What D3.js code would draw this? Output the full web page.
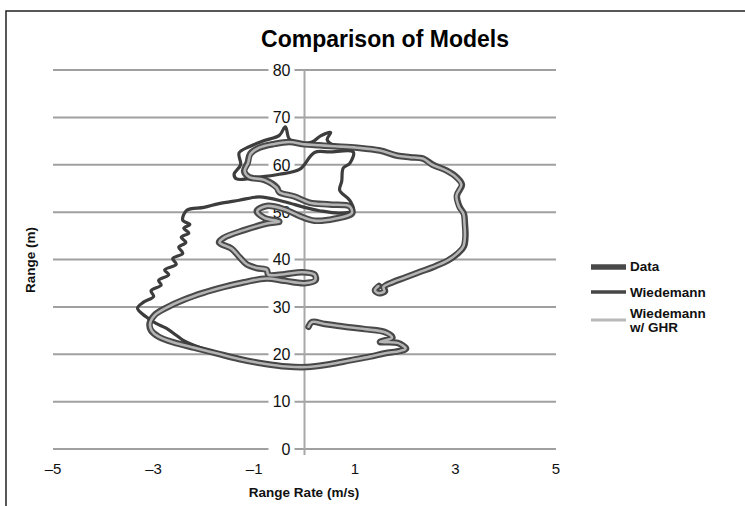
<!DOCTYPE html>
<html><head><meta charset="utf-8">
<script src="https://cdn.jsdelivr.net/npm/d3@7"></script>
<style>body{margin:0;background:#fff}</style>
</head><body>
<svg id="c" width="745" height="506"></svg>
<script>
const chartTitle = "Comparison of Models";
const xTitle = "Range Rate (m/s)";
const yTitle = "Range (m)";
const xTicks = [-5, -3, -1, 1, 3, 5];
const yTicks = [0, 10, 20, 30, 40, 50, 60, 70, 80];
const seriesNames = ["Data", "Wiedemann", "Wiedemann w/ GHR"];

// Data series: range rate (m/s), range (m)
const dataX = [1.48,1.40,1.47,1.60,1.58,1.75,2.0,2.3,2.6,2.85,3.05,3.17,3.20,3.19,3.17,3.08,3.03,3.13,3.02,2.82,2.55,2.36,2.1,1.85,1.5,1.05,0.6,0.3,0.0,-0.3,-0.6,-0.9,-1.08,-1.13,-1.2,-1.1,-0.8,-0.55,-0.5,-0.2,0.1,0.5,0.9,0.95,0.6,0.2,-0.1,-0.4,-0.75,-0.95,-0.8,-0.5,-0.75,-1.2,-1.6,-1.7,-1.45,-1.3,-1.15,-0.95,-0.75,-0.72,-0.4,-0.05,0.2,0.22,0.0,-0.4,-0.75,-1.2,-1.6,-2.0,-2.4,-2.75,-2.98,-3.08,-3.05,-2.9,-2.6,-2.2,-1.75,-1.3,-0.8,-0.35,0.05,0.5,0.9,1.3,1.6,1.9,2.02,1.85,1.5,1.75,1.62,1.2,0.8,0.4,0.15,0.08];
const dataY = [34.4,33.5,32.9,33.3,34.2,35.2,36.2,37.4,38.6,39.8,41.3,42.8,45.0,47.5,49.6,51.2,53.5,55.8,57.4,58.8,60.0,61.3,61.6,61.9,63.0,63.6,63.9,64.1,64.3,64.8,64.4,63.6,62.3,60.4,58.6,57.4,56.8,55.2,54.2,53.3,52.0,51.6,51.2,49.8,48.6,48.2,49.2,50.6,51.3,50.2,48.8,48.0,47.6,46.2,44.6,43.6,42.3,40.6,39.0,38.2,37.8,36.8,36.9,37.3,36.8,35.6,35.0,35.5,36.0,35.2,34.2,33.0,31.5,29.8,28.3,26.5,25.0,23.7,22.5,21.4,20.2,19.0,18.0,17.4,17.3,17.9,18.7,19.5,20.2,20.7,21.2,22.4,22.6,23.5,24.6,25.3,25.8,26.4,26.8,25.8];

// Wiedemann model
const wiedX = [1.48,1.41,1.48,1.61,1.58,1.76,2.0,2.3,2.6,2.86,3.06,3.18,3.21,3.19,3.16,3.09,3.02,3.14,3.01,2.82,2.55,2.36,2.1,1.85,1.5,1.05,0.6,0.45,0.52,0.32,0.15,-0.1,-0.3,-0.38,-0.5,-0.8,-1.1,-1.3,-1.27,-1.4,-1.35,-0.9,-0.5,-0.1,0.2,0.5,0.97,0.9,0.77,0.74,0.7,0.9,0.97,0.7,0.3,0.0,-0.4,-0.9,-1.3,-1.7,-2.0,-2.34,-2.42,-2.28,-2.4,-2.3,-2.45,-2.36,-2.5,-2.42,-2.62,-2.55,-2.78,-2.7,-2.9,-2.85,-3.05,-3.0,-3.2,-3.32,-3.15,-2.95,-2.75,-2.55,-2.42,-2.2,-1.75,-1.3,-0.8,-0.35,0.05,0.5,0.9,1.3,1.6,1.9,2.0,1.85,1.5,1.74,1.6,1.2,0.8,0.4,0.15,0.1];
const wiedY = [34.4,33.5,32.9,33.3,34.2,35.2,36.2,37.4,38.6,39.8,41.3,42.8,45.0,47.5,49.6,51.2,53.5,55.8,57.4,58.8,60.0,61.3,61.7,62.0,63.1,63.7,64.0,65.3,66.8,66.1,64.8,64.6,65.4,68.0,66.2,65.1,63.8,62.5,60.0,58.0,57.0,57.4,58.0,59.0,62.6,62.7,62.7,60.3,59.3,56.5,54.6,52.5,50.4,49.8,50.3,51.0,52.2,53.2,52.5,51.8,51.0,50.4,48.3,47.4,46.6,45.6,44.7,43.6,42.6,41.3,40.2,39.0,37.8,36.8,35.6,34.6,33.4,32.2,31.0,29.7,27.9,26.5,25.5,24.0,23.0,21.9,20.3,19.1,18.1,17.5,17.4,18.0,18.8,19.6,20.3,20.8,21.3,22.4,22.7,23.5,24.6,25.3,25.8,26.4,26.8,25.8];

// Wiedemann w/ GHR model
const ghrX = [1.47,1.40,1.47,1.59,1.57,1.75,2.0,2.3,2.6,2.85,3.04,3.16,3.19,3.18,3.16,3.07,3.02,3.12,3.01,2.81,2.54,2.35,2.1,1.85,1.5,1.05,0.6,0.3,0.0,-0.3,-0.6,-0.9,-1.07,-1.12,-1.19,-1.1,-0.8,-0.56,-0.5,-0.2,0.1,0.5,0.9,0.94,0.6,0.2,-0.1,-0.4,-0.75,-0.94,-0.8,-0.5,-0.75,-1.2,-1.6,-1.69,-1.45,-1.3,-1.15,-0.95,-0.75,-0.72,-0.4,-0.05,0.2,0.21,0.0,-0.4,-0.75,-1.2,-1.6,-2.0,-2.4,-2.75,-2.97,-3.07,-3.04,-2.9,-2.6,-2.2,-1.75,-1.3,-0.8,-0.35,0.05,0.5,0.9,1.3,1.6,1.9,2.01,1.85,1.5,1.74,1.61,1.2,0.8,0.4,0.15,0.08];
const ghrY = [34.4,33.5,32.9,33.3,34.2,35.2,36.2,37.4,38.6,39.8,41.3,42.8,45.0,47.5,49.6,51.2,53.5,55.8,57.4,58.8,60.0,61.3,61.6,61.9,63.0,63.6,63.9,64.1,64.3,64.8,64.4,63.6,62.3,60.4,58.6,57.4,56.8,55.2,54.2,53.3,52.0,51.6,51.2,49.8,48.6,48.2,49.2,50.6,51.3,50.2,48.8,48.0,47.6,46.2,44.6,43.6,42.3,40.6,39.0,38.2,37.8,36.8,36.9,37.3,36.8,35.6,35.0,35.5,36.0,35.2,34.2,33.0,31.5,29.8,28.3,26.5,25.0,23.7,22.5,21.4,20.2,19.0,18.0,17.4,17.3,17.9,18.7,19.5,20.2,20.7,21.2,22.4,22.6,23.5,24.6,25.3,25.8,26.4,26.8,25.8];

const svg = d3.select("#c");
const W = 745, H = 506;
const font = "'Liberation Sans', Arial, sans-serif";

// outer chart border
svg.append("rect").attr("x", 6).attr("y", 11).attr("width", 760).attr("height", 520)
  .attr("fill", "#fff").attr("stroke", "#222").attr("stroke-width", 1.5);

const x = d3.scaleLinear().domain([-5, 5]).range([53, 556]);
const y = d3.scaleLinear().domain([0, 80]).range([449, 70]);

const defs = svg.append("defs");
defs.append("filter").attr("id", "soft").append("feGaussianBlur").attr("stdDeviation", 0.6);

// horizontal gridlines
svg.append("g").selectAll("line").data(yTicks).join("line")
  .attr("x1", x(-5)).attr("x2", x(5))
  .attr("y1", d => y(d)).attr("y2", d => y(d))
  .attr("stroke", "#a0a0a0").attr("stroke-width", 2);

// vertical axis at x=0
svg.append("line").attr("x1", x(0)).attr("x2", x(0)).attr("y1", y(80)).attr("y2", y(0) + 6)
  .attr("stroke", "#a8a8a8").attr("stroke-width", 2);

// y tick labels with white background
const yl = svg.append("g").selectAll("g").data(yTicks).join("g")
  .attr("transform", d => `translate(${x(0) - 14},${y(d)})`);
yl.append("rect").attr("x", -22).attr("y", -9).attr("width", 26).attr("height", 18).attr("fill", "#fff");
yl.append("text").text(d => d).attr("text-anchor", "end").attr("dy", "0.36em")
  .attr("font-family", font).attr("font-size", 16).attr("fill", "#111");

// x tick labels
svg.append("g").selectAll("text").data(xTicks).join("text")
  .attr("x", d => x(d)).attr("y", 474).attr("text-anchor", "middle")
  .text(d => d < 0 ? "\u2013" + Math.abs(d) : d)
  .attr("font-family", font).attr("font-size", 15).attr("fill", "#111");

// series
const toPts = (xs, ys) => xs.map((v, i) => [v, ys[i]]);
const line = d3.line().x(d => x(d[0])).y(d => y(d[1])).curve(d3.curveCatmullRom.alpha(0.5));
const g = svg.append("g").attr("filter", "url(#soft)");
g.append("path").attr("d", line(toPts(dataX, dataY))).attr("fill", "none")
  .attr("stroke", "#4a4a4a").attr("stroke-width", 6.5).attr("stroke-linejoin", "round").attr("stroke-linecap", "round");
g.append("path").attr("d", line(toPts(wiedX, wiedY))).attr("fill", "none")
  .attr("stroke", "#3c3c3c").attr("stroke-width", 3.2).attr("stroke-linejoin", "round").attr("stroke-linecap", "round");
g.append("path").attr("d", line(toPts(ghrX, ghrY))).attr("fill", "none")
  .attr("stroke", "#b4b4b4").attr("stroke-width", 2.6).attr("stroke-linejoin", "round").attr("stroke-linecap", "round");

// title
svg.append("text").attr("x", 385).attr("y", 47).attr("text-anchor", "middle")
  .attr("font-family", font).attr("font-weight", "bold").attr("font-size", 23).attr("fill", "#000")
  .text(chartTitle);

// axis titles
svg.append("text").attr("x", 304).attr("y", 497).attr("text-anchor", "middle")
  .attr("font-family", font).attr("font-weight", "bold").attr("font-size", 13.5).attr("fill", "#111")
  .text(xTitle);
svg.append("text").attr("transform", "translate(35,260) rotate(-90)").attr("text-anchor", "middle")
  .attr("font-family", font).attr("font-weight", "bold").attr("font-size", 13.5).attr("fill", "#111")
  .text(yTitle);

// legend
const legendStyles = [
  {stroke: "#4a4a4a", w: 5.5, y: 267},
  {stroke: "#444", w: 3.5, y: 292},
  {stroke: "#b8b8b8", w: 3, y: 320}
];
const lg = svg.append("g").attr("filter", "url(#soft)");
seriesNames.forEach((name, i) => {
  const s = legendStyles[i];
  lg.append("line").attr("x1", 591).attr("x2", 626).attr("y1", s.y).attr("y2", s.y)
    .attr("stroke", s.stroke).attr("stroke-width", s.w);
});
const lt = svg.append("g");
lt.append("text").attr("x", 630).attr("y", 271).text(seriesNames[0]);
lt.append("text").attr("x", 630).attr("y", 297).text(seriesNames[1]);
const t3 = lt.append("text").attr("x", 630).attr("y", 318);
t3.append("tspan").attr("x", 630).text("Wiedemann");
t3.append("tspan").attr("x", 630).attr("dy", 14).text("w/ GHR");
lt.selectAll("text").attr("font-family", font).attr("font-weight", "bold").attr("font-size", 13.5).attr("fill", "#111");
</script>
</body></html>
